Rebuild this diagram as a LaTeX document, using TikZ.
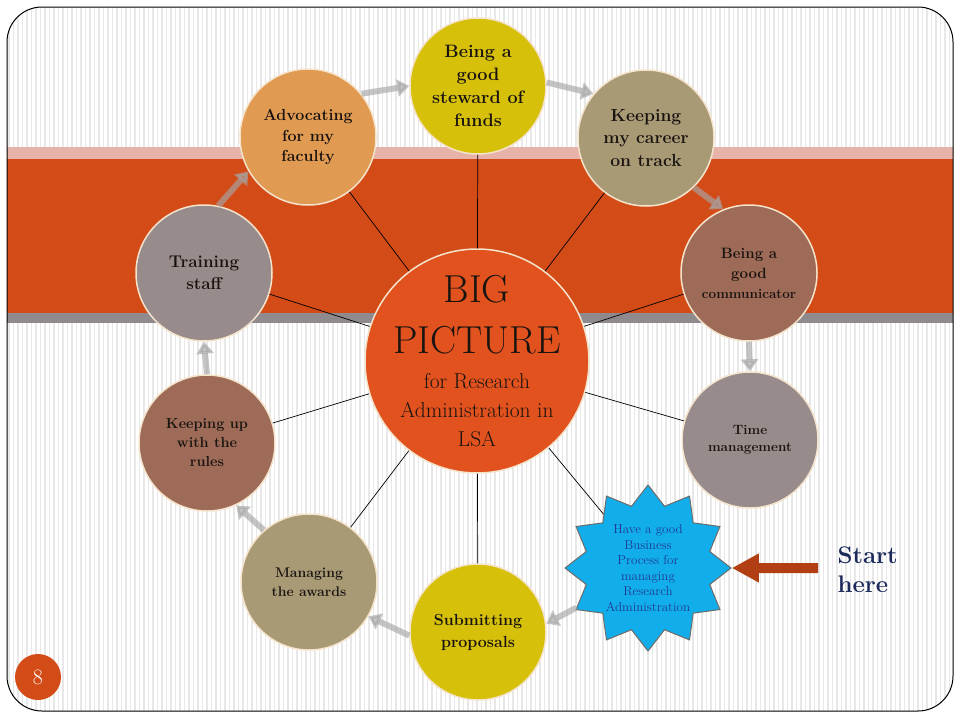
\documentclass[tikz,border=0pt]{standalone}
\usepackage{tikz}
\usetikzlibrary{arrows.meta,shapes.geometric}
\definecolor{bandorange}{HTML}{D34B17}
\definecolor{bandpink}{HTML}{E7B2A8}
\definecolor{bandgray}{HTML}{8F8A8E}
\definecolor{bigorange}{HTML}{E1521E}
\definecolor{stewyellow}{HTML}{D6C00A}
\definecolor{advorange}{HTML}{E09A52}
\definecolor{tan}{HTML}{A99A76}
\definecolor{rust}{HTML}{9E6B58}
\definecolor{mauve}{HTML}{978B8C}
\definecolor{starblue}{HTML}{12ADEB}
\definecolor{textblue}{HTML}{1F3A93}
\definecolor{navy}{HTML}{1B2A5A}
\definecolor{arrowred}{HTML}{B23E14}
\definecolor{flowgray}{HTML}{A6A6A6}
\definecolor{rim}{HTML}{F5E3CC}
\definecolor{ink}{HTML}{1A1410}
\definecolor{stripe}{HTML}{E8E8E8}
\newcommand{\fsz}[2]{\fontsize{#1}{#2}\selectfont}

\begin{document}
\begin{tikzpicture}
  [x=1pt,y=-1pt,
  bubble/.style={circle,draw=rim,line width=1.5pt,minimum size=136pt,
    inner sep=0pt,align=center,text=ink},
  spoke/.style={line width=.7pt,black},
  flow/.style={line width=6pt,draw=flowgray,fill=flowgray,opacity=.65,
    -{Triangle[width=17pt,length=12pt]}}]
  \useasboundingbox (0,0) rectangle (960,720);
  % nền có sọc và dải màu
  \begin{scope}
    \clip[rounded corners=35pt] (7,7) rectangle (953,711);
    \foreach \x in {9,13.5,...,952}
    \draw[stripe,line width=1.3pt] (\x,7)--(\x,711);
    \fill[bandpink] (7,147) rectangle (953,160);
    \fill[bandorange] (7,159) rectangle (953,313);
    \fill[bandgray] (7,313) rectangle (953,323);
  \end{scope}
  \draw[line width=1pt,rounded corners=35pt] (7,7) rectangle (953,711);
  % các vòng tròn
  \node[bubble,fill=bigorange,minimum size=224pt] (big) at (477,361) {};
  \node[align=center,text=ink,font=\fsz{21.5}{29}] (bigtext) at (big.center)
  {\fsz{39}{29}BIG\\[22pt]\fsz{39}{29}PICTURE\\[6pt]for Research\\
    Administration in\\LSA};
  \node[bubble,fill=stewyellow,font=\bfseries\fsz{18}{23}] (steward) at (478,86)
  {Being a\\good\\steward of\\funds};
  \node[bubble,fill=advorange,font=\bfseries\fsz{16}{20.5}] (advoc) at (308,137)
  {Advocating\\for my\\faculty};
  \node[bubble,fill=tan,font=\bfseries\fsz{17.5}{22.5}] (career) at (646,138)
  {Keeping\\my career\\on track};
  \node[bubble,fill=rust,font=\bfseries\fsz{15}{20}] (comm) at (749,273)
  {Being a\\good\\\fsz{13.5}{20}communicator};
  \node[bubble,fill=mauve,font=\bfseries\fsz{13.5}{17}] (time) at (750,440)
  {Time\\management};
  \node[bubble,fill=stewyellow,font=\bfseries\fsz{16}{22}] (submit) at (478,632)
  {Submitting\\proposals};
  \node[bubble,fill=tan,font=\bfseries\fsz{14}{19}] (manage) at (309,582)
  {Managing\\the awards};
  \node[bubble,fill=rust,font=\bfseries\fsz{14.5}{19}] (rules) at (207,443)
  {Keeping up\\with the\\rules};
  \node[bubble,fill=mauve,font=\bfseries\fsz{17}{22}] (train) at (204,273)
  {Training\\staff};
  \node[star,star points=12,star point ratio=1.3,minimum size=166pt,
  fill=starblue,draw=gray!85!black,line width=1pt,inner sep=0pt,
  align=center,text=textblue,font=\fsz{13}{15.6}] (star) at (648,568)
  {Have a good\\Business\\Process for\\managing\\Research\\Administration};
  % các đường nối với tâm
  \foreach \n in {steward,career,comm,time,star,submit,manage,rules,train,advoc}
  \draw[spoke] (big)--(\n);
  % các mũi tên của chu trình
  \draw[flow] (star.209)--(submit.7);
  \draw[flow] (submit.183)--(manage.-30);
  \draw[flow] (manage.131)--(rules.-65);
  \draw[flow] (rules.90)--(train.-90);
  \draw[flow] (train.78)--(advoc.210);
  \draw[flow] (advoc.39)--(steward.180);
  \draw[flow] (steward.3)--(career.140);
  \draw[flow] (career.-46)--(comm.112);
  \draw[flow] (comm.-90)--(time.90);
  % bắt đầu ở đây
  \node[anchor=west,align=left,text=navy,font=\bfseries\fsz{24}{29}] (start)
  at (834,570) {Start\\here};
  \coordinate (tail) at (818,568);
  \draw[arrowred,line width=10pt,-{Triangle[width=27pt,length=27pt]}]
  (tail)--(star.east);
  % số trang
  \node[circle,fill=bandorange,minimum size=46pt,inner sep=0pt,
  text=white,font=\fsz{22}{22}] (page) at (38,677) {8};
\end{tikzpicture}
\end{document}
